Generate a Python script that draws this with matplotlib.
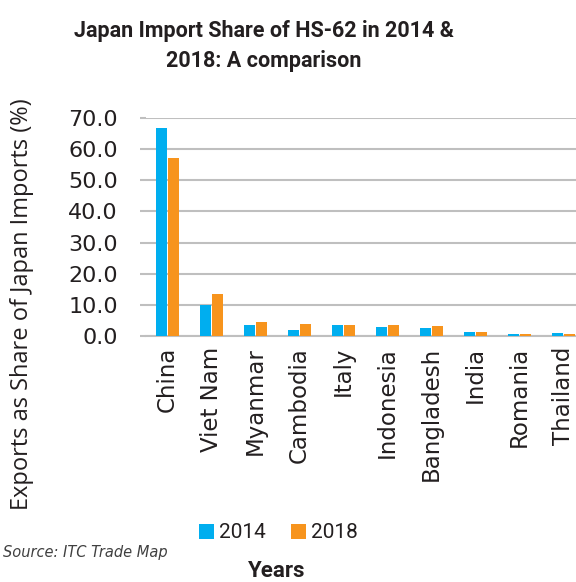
import matplotlib.pyplot as plt
import numpy as np

countries = ["China", "Viet Nam", "Myanmar", "Cambodia", "Italy",
             "Indonesia", "Bangladesh", "India", "Romania", "Thailand"]
share_2014 = [66.8, 10.0, 3.4, 1.8, 3.4, 2.8, 2.5, 1.2, 0.6, 0.9]
share_2018 = [57.1, 13.4, 4.4, 3.8, 3.4, 3.4, 3.1, 1.2, 0.6, 0.6]
yticks = [0, 10, 20, 30, 40, 50, 60, 70]

blue = "#00AEEF"
orange = "#F7941D"
txt = "#231F20"

plt.rcParams['font.family'] = ['DejaVu Sans']

fig = plt.figure(figsize=(5.76, 5.82), dpi=100)
ax = fig.add_axes([145.5 / 576, 1 - 336 / 582, 440 / 576, 218 / 582])

x = np.arange(len(countries))
w = 0.25
ax.bar(x - 0.135, share_2014, width=w, color=blue, label="2014", zorder=3)
ax.bar(x + 0.135, share_2018, width=w, color=orange, label="2018", zorder=3)

ax.set_xlim(-0.5, len(countries) - 0.5)
ax.set_ylim(0, 70)
ax.set_yticks(yticks)
ax.set_yticklabels([f"{v:.1f}" for v in yticks], fontsize=16, color=txt)
ax.set_xticks(x)
ax.set_xticklabels(countries, rotation=90, fontsize=16.5, color=txt)

ax.grid(axis="y", color="#BFBFBF", linewidth=1.5, zorder=0)
for s in ["top", "right", "left"]:
    ax.spines[s].set_visible(False)
ax.spines["bottom"].set_color("#BFBFBF")
ax.spines["bottom"].set_linewidth(1.5)
ax.tick_params(axis="y", length=4, color="#BFBFBF", width=1.5, pad=16)
ax.tick_params(axis="x", length=0, pad=8)

fig.text(22 / 576, 1 - 304 / 582, "Exports as Share of Japan Imports (%)",
         rotation=90, ha="center", va="center", fontsize=17, color=txt,
         family="Open Sans")

fig.text(264 / 576, 1 - 46 / 582, "Japan Import Share of HS-62 in 2014 &\n2018: A comparison",
         ha="center", va="center", fontsize=15.5, fontweight="bold", color=txt,
         linespacing=1.45, family="Roboto")

fig.legend(loc="center", bbox_to_anchor=(278 / 576, 1 - 533 / 582), ncol=2,
           frameon=False, handlelength=0.72, handleheight=0.72,
           handletextpad=0.25, columnspacing=1.2, labelcolor=txt,
           prop={"family": "Roboto", "size": 15})

fig.text(0.005, 1 - 553 / 582, "Source: ITC Trade Map", fontsize=10.5,
         style="italic", color="#404040", va="center", ha="left")
fig.text(277 / 576, 1 - 571 / 582, "Years", fontsize=16, fontweight="bold",
         color=txt, ha="center", va="center", family="Roboto")

fig.savefig("out.png", dpi=100)
